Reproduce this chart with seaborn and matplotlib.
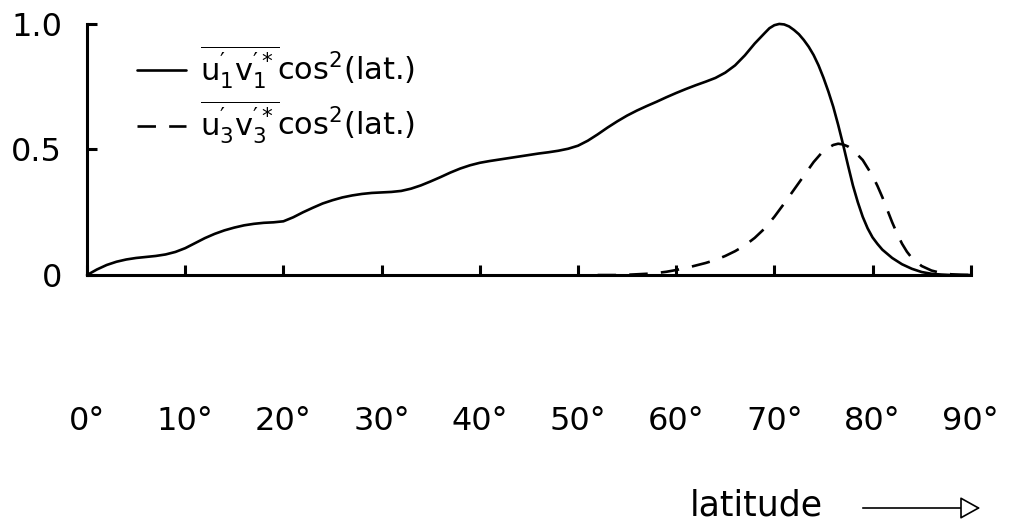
import matplotlib
matplotlib.use('Agg')
import pandas as pd
import seaborn as sns
import matplotlib.pyplot as plt

# solid curve: u1'v1'* cos^2(lat.)
lat_1 = [0, 1, 2, 3, 4, 5, 6, 7, 8, 9, 10, 11, 12, 13, 14, 15, 16, 17, 18, 19, 20,
         21, 22, 23, 24, 25, 26, 27, 28, 29, 30, 31, 32, 33, 34, 35, 36, 37, 38, 39,
         40, 41, 42, 43, 44, 45, 46, 47, 48, 49, 50, 51, 52, 53, 54, 55, 56, 57, 58,
         59, 60, 61, 62, 63, 64, 65, 66, 67, 68, 69, 69.5, 70, 70.5, 71, 71.5, 72,
         72.5, 73, 73.5, 74, 74.5, 75, 75.5, 76, 76.5, 77, 77.5, 78, 78.5, 79, 79.5,
         80, 80.5, 81, 82, 83, 84, 85, 86, 87, 88, 90]
flux_1 = [0.0, 0.022, 0.04, 0.053, 0.062, 0.068, 0.072, 0.076, 0.082, 0.092, 0.107,
          0.127, 0.147, 0.164, 0.178, 0.189, 0.198, 0.204, 0.208, 0.21, 0.214, 0.23,
          0.25, 0.268, 0.285, 0.298, 0.309, 0.317, 0.323, 0.327, 0.329, 0.331, 0.335,
          0.344, 0.357, 0.373, 0.39, 0.408, 0.424, 0.437, 0.447, 0.454, 0.46, 0.466,
          0.472, 0.478, 0.484, 0.489, 0.495, 0.503, 0.515, 0.535, 0.56, 0.587, 0.612,
          0.635, 0.655, 0.673, 0.69, 0.708, 0.725, 0.741, 0.756, 0.77, 0.785, 0.806,
          0.835, 0.875, 0.922, 0.963, 0.983, 0.995, 1.0, 0.998, 0.99, 0.976, 0.959,
          0.936, 0.909, 0.876, 0.835, 0.786, 0.731, 0.67, 0.598, 0.52, 0.437, 0.357,
          0.29, 0.232, 0.186, 0.15, 0.124, 0.101, 0.068, 0.043, 0.025, 0.012, 0.005,
          0.002, 0.0, 0.0]

# dashed curve: u3'v3'* cos^2(lat.)
lat_3 = [52, 54, 55, 56, 57, 58, 59, 60, 61, 62, 63, 64, 65, 66, 67, 68, 69, 70, 71,
         72, 73, 74, 75, 76, 76.5, 77, 77.5, 78, 79, 80, 80.5, 81, 81.5, 82, 82.5,
         83, 83.5, 84, 85, 86, 87, 88, 89, 90]
flux_3 = [0.0, 0.0, 0.001, 0.003, 0.005, 0.008, 0.013, 0.02, 0.028, 0.038, 0.048, 0.06,
          0.076, 0.095, 0.118, 0.148, 0.185, 0.232, 0.285, 0.34, 0.395, 0.45, 0.495,
          0.518, 0.523, 0.52, 0.512, 0.498, 0.458, 0.395, 0.355, 0.31, 0.26, 0.21,
          0.165, 0.125, 0.093, 0.068, 0.036, 0.018, 0.008, 0.003, 0.001, 0.0]

x_ticks = [0, 10, 20, 30, 40, 50, 60, 70, 80, 90]
x_labels = ['0°', '10°', '20°', '30°', '40°', '50°', '60°', '70°', '80°', '90°']
y_ticks = [0, 0.5, 1.0]
y_labels = ['0', '0.5', '1.0']

label_1 = r'$\overline{u_1^{\prime}v_1^{\prime *}}$cos$^2$(lat.)'
label_3 = r'$\overline{u_3^{\prime}v_3^{\prime *}}$cos$^2$(lat.)'

sns.set_style('ticks')
plt.rcParams['font.family'] = ['DejaVu Sans']
plt.rcParams['mathtext.default'] = 'regular'
plt.rcParams['text.color'] = 'black'

fig = plt.figure(figsize=(10.36, 5.32), dpi=100)
ax = fig.add_axes([0.084, 0.483, 0.853, 0.472])

df1 = pd.DataFrame({'lat': lat_1, 'flux': flux_1})
df3 = pd.DataFrame({'lat': lat_3, 'flux': flux_3})
sns.lineplot(data=df1, x='lat', y='flux', ax=ax, color='black', lw=1.9,
             label=label_1, clip_on=False)
sns.lineplot(data=df3, x='lat', y='flux', ax=ax, color='black', lw=1.9,
             label=label_3, clip_on=False)
ax.lines[1].set_dashes([7, 5])

ax.set_xlim(0, 90)
ax.set_ylim(0, 1.0)
ax.set_xticks(x_ticks)
ax.set_xticklabels(x_labels)
ax.set_yticks(y_ticks)
ax.set_yticklabels(y_labels)
ax.set_xlabel('')
ax.set_ylabel('')
sns.despine(ax=ax)
for s in ['left', 'bottom']:
    ax.spines[s].set_linewidth(2.2)
    ax.spines[s].set_color('black')
ax.tick_params(axis='both', direction='in', length=7, width=2.2,
               labelsize=23, colors='black')
ax.tick_params(axis='x', pad=94)
ax.tick_params(axis='y', pad=18)

leg = ax.legend(loc='upper left', bbox_to_anchor=(0.043, 0.97), frameon=False,
                fontsize=22, handlelength=1.6, handletextpad=0.45, labelspacing=0.25,
                borderaxespad=0)
for t in leg.get_texts():
    t.set_color('black')

# axis label with arrow
fig.text(690 / 1036, 1 - 505 / 532, 'latitude', fontsize=25, ha='left', va='center')
fig.add_artist(matplotlib.patches.FancyArrowPatch(
    (860 / 1036, 1 - 508 / 532), (983 / 1036, 1 - 508 / 532),
    transform=fig.transFigure, arrowstyle='-|>,head_length=0.9,head_width=0.5',
    mutation_scale=14, lw=1.2, color='black', fc='white'))

fig.savefig('out.png', dpi=100)
